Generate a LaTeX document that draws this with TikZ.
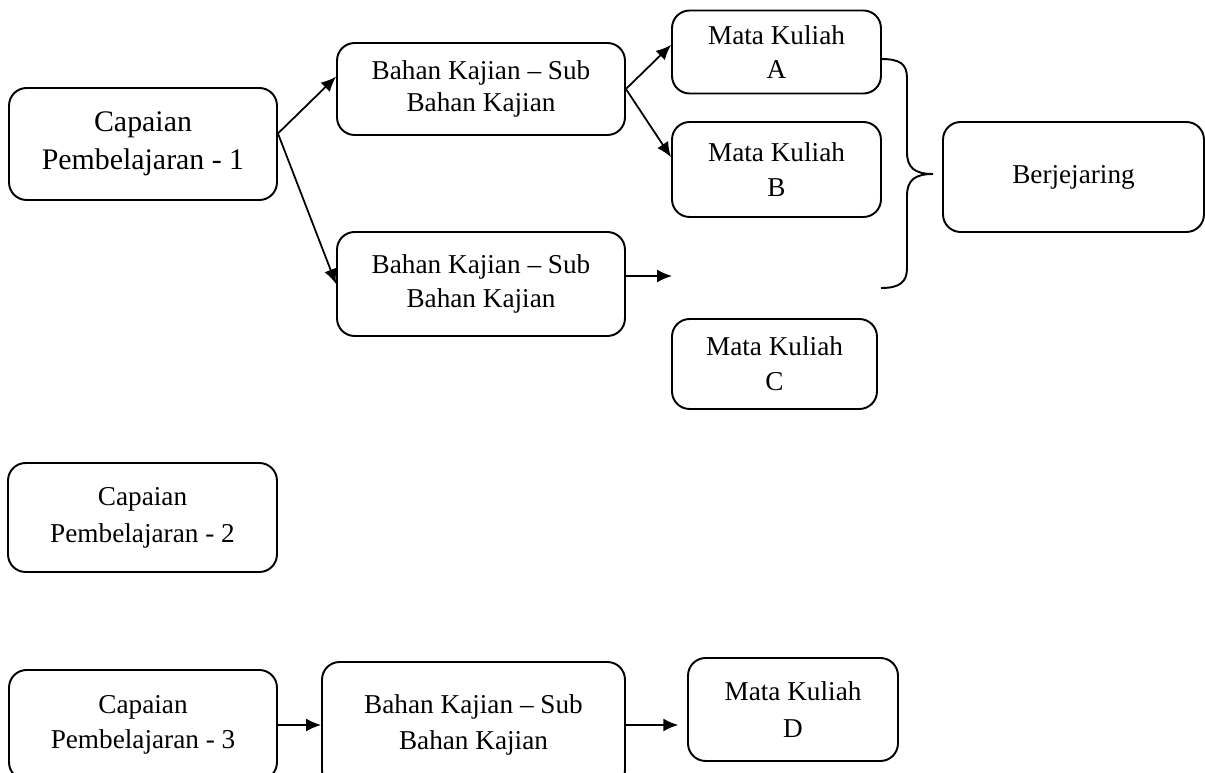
\documentclass[tikz,border=0pt]{standalone}
\usepackage{fontspec}
\setmainfont{Liberation Serif}
\usepackage{tikz}
\usetikzlibrary{arrows.meta,calc,positioning}

\begin{document}
\begin{tikzpicture}[
  x=0.02cm,y=-0.02cm,
  box/.style={draw,rounded corners=10pt,line width=1.1pt,align=center,inner sep=0pt,font=\fontsize{15.5}{20}\selectfont},
  arrow/.style={-{Latex[length=3mm,width=2.6mm]},line width=1pt}
]
\useasboundingbox (0,0) rectangle (1205,773);
\node[box,minimum width=5.36cm,minimum height=2.24cm,font=\fontsize{17}{21.5}\selectfont] (cp1) at (143,144) {Capaian\\Pembelajaran - 1};
\node[box,minimum width=5.76cm,minimum height=1.84cm,font=\fontsize{15.5}{18.5}\selectfont] (bk1) at (481,89) {Bahan Kajian -- Sub\\Bahan Kajian};
\node[box,minimum width=5.76cm,minimum height=2.08cm,font=\fontsize{15.5}{19.5}\selectfont] (bk2) at (481,284) {Bahan Kajian -- Sub\\Bahan Kajian};
\node[box,minimum width=4.18cm,minimum height=1.66cm,font=\fontsize{15.5}{19}\selectfont] (mka) at (776.5,52) {Mata Kuliah\\A};
\node[box,minimum width=4.18cm,minimum height=1.9cm] (mkb) at (776.5,169.5) {Mata Kuliah\\B};
\node[box,minimum width=4.1cm,minimum height=1.8cm] (mkc) at (774.5,364) {Mata Kuliah\\C};
\node[box,minimum width=5.22cm,minimum height=2.2cm] (berj) at (1073.5,177) {Berjejaring};
\node[box,minimum width=5.38cm,minimum height=2.18cm,font=\fontsize{15.5}{21}\selectfont] (cp2) at (142.5,517.5) {Capaian\\Pembelajaran - 2};
\node[box,minimum width=5.36cm,minimum height=2.2cm] (cp3) at (143,725) {Capaian\\Pembelajaran - 3};
\node[box,minimum width=6.06cm,minimum height=2.52cm] (bk3) at (473.5,725) {Bahan Kajian -- Sub\\Bahan Kajian};
\node[box,minimum width=4.2cm,minimum height=2.06cm,font=\fontsize{15.5}{21}\selectfont] (mkd) at (793,709.5) {Mata Kuliah\\D};
\coordinate (gap) at (672,276);
\draw[arrow] ([yshift=6pt]cp1.east) -- ([yshift=7pt]bk1.west);
\draw[arrow] ([yshift=6pt]cp1.east) -- (bk2.west);
\draw[arrow] (bk1.east) -- ([yshift=4pt]mka.west);
\draw[arrow] (bk1.east) -- ([yshift=7pt]mkb.west);
\draw[arrow] (bk2.east |- gap) -- (gap);
\draw[arrow] (cp3.east) -- (bk3.west);
\draw[arrow,shorten >=5pt] (bk3.east) -- (bk3.east -| mkd.west);
% brace towards Berjejaring
\draw[line width=1.1pt] (881,59) .. controls (900,59) and (907,64) .. (907,78) -- (907,152)
  .. controls (907,168) and (915,174) .. (933,174)
  .. controls (915,174) and (907,180) .. (907,196) -- (907,268)
  .. controls (907,282) and (900,288) .. (881,288);
\end{tikzpicture}
\end{document}
